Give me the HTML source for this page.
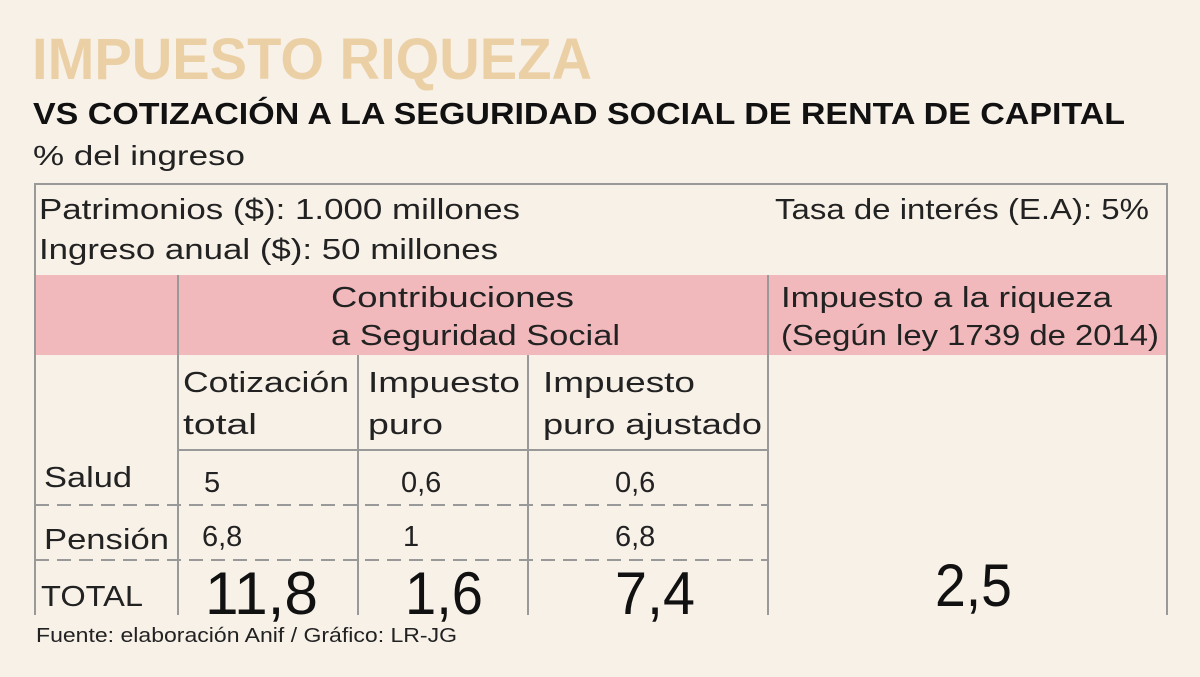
<!DOCTYPE html>
<html><head><meta charset="utf-8"><style>
html,body{margin:0;padding:0;background:#f8f1e8;}
svg{display:block;font-family:"Liberation Sans",sans-serif;}
</style></head><body>
<svg width="1200" height="677" viewBox="0 0 1200 677">
<rect width="1200" height="677" fill="#f8f1e8"/>
<text x="32" y="79" font-size="58" font-weight="bold" fill="#ebd0a6" textLength="560" lengthAdjust="spacingAndGlyphs">IMPUESTO RIQUEZA</text>
<text x="33" y="124" font-size="31" font-weight="bold" fill="#111" textLength="1092" lengthAdjust="spacingAndGlyphs">VS COTIZACIÓN A LA SEGURIDAD SOCIAL DE RENTA DE CAPITAL</text>
<text x="33" y="165" font-size="28" fill="#222" textLength="212" lengthAdjust="spacingAndGlyphs">% del ingreso</text>
<rect x="178" y="275" width="590" height="80" fill="#f2b9bc"/>
<rect x="35" y="275" width="143" height="80" fill="#f2b9bc"/>
<rect x="769" y="275" width="398" height="80" fill="#f2b9bc"/>
<g stroke="#999" stroke-width="2" fill="none">
<path d="M35 615 V184 H1167 V615"/>
<path d="M178 275 V615 M768 275 V615 M358 355 V615 M528 355 V615"/>
<path d="M178 450 H768"/>
<path d="M35 505 H768 M35 560 H768" stroke-dasharray="14 8"/>
</g>
<g font-size="29" fill="#222">
<text x="39" y="219" textLength="481" lengthAdjust="spacingAndGlyphs">Patrimonios ($): 1.000 millones</text>
<text x="39" y="259" textLength="459" lengthAdjust="spacingAndGlyphs">Ingreso anual ($): 50 millones</text>
<text x="775" y="219" textLength="374" lengthAdjust="spacingAndGlyphs">Tasa de interés (E.A): 5%</text>
<text x="331" y="307" textLength="243" lengthAdjust="spacingAndGlyphs">Contribuciones</text>
<text x="331" y="345" textLength="289" lengthAdjust="spacingAndGlyphs">a Seguridad Social</text>
<text x="781" y="307" textLength="331" lengthAdjust="spacingAndGlyphs">Impuesto a  la riqueza</text>
<text x="781" y="345" textLength="378" lengthAdjust="spacingAndGlyphs">(Según ley 1739 de 2014)</text>
<text x="183" y="392" textLength="166" lengthAdjust="spacingAndGlyphs">Cotización</text>
<text x="183" y="434" textLength="74" lengthAdjust="spacingAndGlyphs">total</text>
<text x="368" y="392" textLength="152" lengthAdjust="spacingAndGlyphs">Impuesto</text>
<text x="368" y="434" textLength="75" lengthAdjust="spacingAndGlyphs">puro</text>
<text x="543" y="392" textLength="152" lengthAdjust="spacingAndGlyphs">Impuesto</text>
<text x="543" y="434" textLength="219" lengthAdjust="spacingAndGlyphs">puro ajustado</text>
<text x="44" y="487" textLength="88" lengthAdjust="spacingAndGlyphs">Salud</text>
<text x="44" y="549" textLength="125" lengthAdjust="spacingAndGlyphs">Pensión</text>
<text x="41" y="606" textLength="102" lengthAdjust="spacingAndGlyphs">TOTAL</text>
<text x="204" y="492">5</text>
<text x="401" y="492">0,6</text>
<text x="615" y="492">0,6</text>
<text x="202" y="546">6,8</text>
<text x="403" y="546">1</text>
<text x="615" y="546">6,8</text>
</g>
<g font-size="60" fill="#111">
<text x="205" y="614" textLength="113" lengthAdjust="spacingAndGlyphs">11,8</text>
<text x="405" y="614" textLength="78" lengthAdjust="spacingAndGlyphs">1,6</text>
<text x="615" y="614" textLength="80" lengthAdjust="spacingAndGlyphs">7,4</text>
<text x="935" y="606" textLength="77" lengthAdjust="spacingAndGlyphs">2,5</text>
</g>
<text x="36" y="642" font-size="20" fill="#222" textLength="421" lengthAdjust="spacingAndGlyphs">Fuente: elaboración Anif / Gráfico: LR-JG</text>
</svg>
</body></html>
